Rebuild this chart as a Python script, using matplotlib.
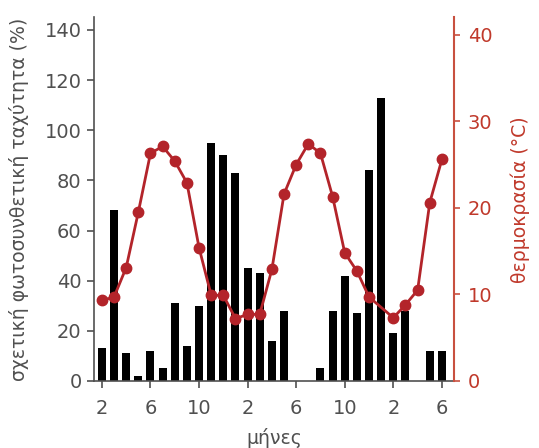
import numpy as np
import matplotlib
matplotlib.use("Agg")
import matplotlib.pyplot as plt

# month index 0..28, starting at February of year 1
month_idx = np.arange(29)
tick_pos = [0, 4, 8, 12, 16, 20, 24, 28]
tick_labels = ["2", "6", "10", "2", "6", "10", "2", "6"]

# relative photosynthetic rate (%)
photo_rate = [13, 68, 11, 2, 12, 5, 31, 14, 30, 95, 90, 83, 45, 43, 16,
              28, 0, 0, 5, 28, 42, 27, 84, 113, 19, 28, 0, 12, 12]

# temperature (°C); no point for month index 23
temp_idx = [0, 1, 2, 3, 4, 5, 6, 7, 8, 9, 10, 11, 12, 13, 14,
            15, 16, 17, 18, 19, 20, 21, 22, 24, 25, 26, 27, 28]
temperature = [9.3, 9.7, 13.1, 19.5, 26.3, 27.1, 25.4, 22.9, 15.4, 9.9, 9.9, 7.2, 7.7, 7.7, 12.9,
               21.6, 25.0, 27.4, 26.3, 21.3, 14.8, 12.7, 9.7, 7.3, 8.8, 10.5, 20.6, 25.6]

gray = "#505050"
red_axis = "#c8503f"
red_text = "#c0392b"
red_line = "#b3242a"

fig = plt.figure(figsize=(5.39, 4.48), dpi=100)
ax = fig.add_axes([0.1744, 0.1496, 0.668, 0.8115])

ax.bar(month_idx, photo_rate, width=0.66, color="black", zorder=2)
ax.set_xlim(-0.65, 29.0)
ax.set_ylim(0, 145)
ax.set_yticks(range(0, 141, 20))
ax.set_xticks(tick_pos)
ax.set_xticklabels(tick_labels)
ax.tick_params(colors=gray, labelsize=14, width=1.2, length=5)
ax.tick_params(axis="y", pad=4)
ax.tick_params(axis="x", pad=8)
for s in ["left", "bottom"]:
    ax.spines[s].set_color(gray)
    ax.spines[s].set_linewidth(1.2)
ax.spines["top"].set_visible(False)
ax.spines["right"].set_visible(False)
ax.set_ylabel("σχετική φωτοσυνθετική ταχύτητα (%)", color=gray, fontsize=13.6, labelpad=11)
ax.set_xlabel("μήνες", color=gray, fontsize=13.6, labelpad=7)

ax2 = ax.twinx()
ax2.plot(temp_idx, temperature, color=red_line, lw=2, marker="o", ms=7.5, zorder=3)
ax2.set_ylim(0, 42)
ax2.set_yticks(range(0, 41, 10))
ax2.tick_params(colors=red_axis, labelcolor=red_text, labelsize=14, width=1.2, length=4, pad=6)
ax2.spines["right"].set_color(red_axis)
ax2.spines["right"].set_linewidth(1.5)
for s in ["top", "left", "bottom"]:
    ax2.spines[s].set_visible(False)
ax2.set_ylabel("θερμοκρασία (°C)", color=red_text, fontsize=13.6, labelpad=13)

fig.savefig("out.png", dpi=100)
